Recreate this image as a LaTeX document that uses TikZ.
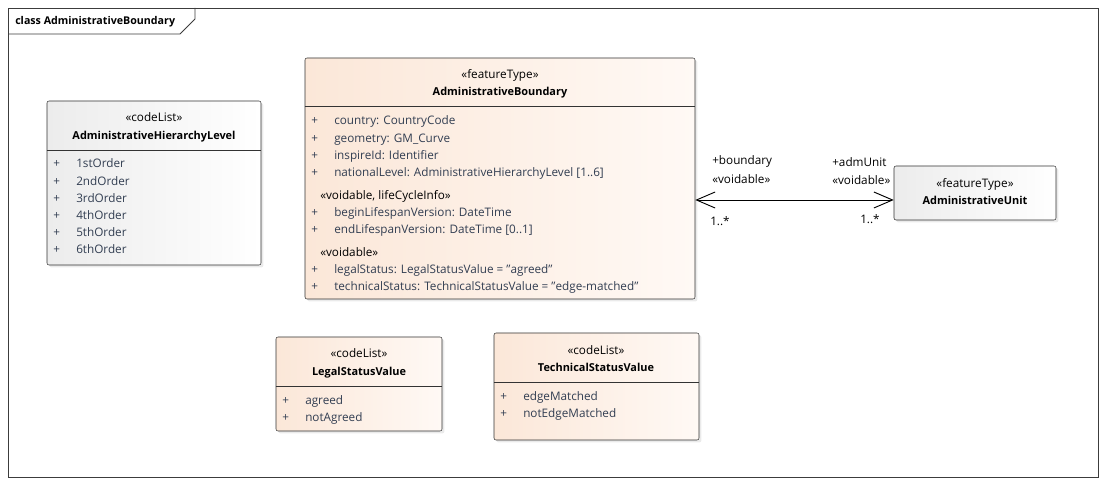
\documentclass[tikz,border=0pt]{standalone}
\usepackage{fontspec}
\setmainfont{Open Sans}
\usetikzlibrary{positioning,arrows.meta,shadows,fit}
\definecolor{peachleft}{RGB}{251,231,216}
\definecolor{peachright}{RGB}{255,249,245}
\definecolor{greyleft}{RGB}{236,236,236}
\definecolor{attrtext}{RGB}{50,62,82}
\definecolor{framegrey}{RGB}{60,60,60}
\newcommand{\qq}{\symbol{34}}

\begin{document}
\begin{tikzpicture}[x=0.75pt, y=-0.75pt,
  every node/.style={font=\fontsize{8.8}{10}\selectfont},
  classbox/.style={draw=black!80, rounded corners=1.5pt, inner sep=0pt,
    left color=peachleft, right color=peachright,
    drop shadow={shadow xshift=1.8pt, shadow yshift=-1.8pt, opacity=0.16}},
  greybox/.style={classbox, left color=greyleft, right color=white},
  stereo/.style={anchor=mid, inner sep=0pt, yshift=-1pt},
  cname/.style={anchor=mid, inner sep=0pt, yshift=-1pt, font=\fontsize{8.2}{10}\selectfont\bfseries},
  plus/.style={anchor=mid west, inner sep=0pt, yshift=-1pt, text=attrtext},
  attr/.style={anchor=mid west, inner sep=0pt, yshift=-1pt, text=attrtext},
  rolelbl/.style={anchor=mid west, inner sep=0pt, yshift=-1pt},
  assoc/.style={line width=0.7pt, {Straight Barb[length=14pt, width=12pt]}-{Straight Barb[length=14pt, width=12pt]}}]
\useasboundingbox (0,0) rectangle (1106,484);
\fill[white] (0,0) rectangle (1106,484);

% diagram frame
\draw[framegrey, line width=0.7pt] (8,8) rectangle (1098,477);
\draw[framegrey, line width=0.7pt] (8,34) -- (180,34) -- (195,19) -- (195,8);
\node[anchor=mid west, inner sep=0pt, font=\fontsize{8}{10}\selectfont\bfseries] (framelabel) at (15,21) {class AdministrativeBoundary};

% codeList AdministrativeHierarchyLevel
\node[greybox, fit={(47,101) (261,265)}] (hierlevel) {};
\node[stereo] (hierlevel-st) at (154,117) {«codeList»};
\node[cname] (hierlevel-nm) at (154,135) {AdministrativeHierarchyLevel};
\draw[black!80] (hierlevel.west |- 0,150) -- (hierlevel.east |- 0,150);
\foreach \val [count=\i] in {1stOrder,2ndOrder,3rdOrder,4thOrder,5thOrder,6thOrder} {
  \node[plus] (hierlevel-p\i) at (53,{163+17.2*(\i-1)}) {+};
  \node[attr] (hierlevel-v\i) at (76,{163+17.2*(\i-1)}) {\val};
}

% featureType AdministrativeBoundary
\node[classbox, fit={(305,58) (695,299)}] (boundary) {};
\node[stereo] (boundary-st) at (500,74) {«featureType»};
\node[cname] (boundary-nm) at (500,91) {AdministrativeBoundary};
\draw[black!80] (boundary.west |- 0,106) -- (boundary.east |- 0,106);
\foreach \val/\yy [count=\i] in {country: CountryCode/120, geometry: GM\_Curve/138, inspireId: Identifier/155,
    nationalLevel: AdministrativeHierarchyLevel [1..6]/172, beginLifespanVersion: DateTime/212,
    endLifespanVersion: DateTime [0..1]/229, legalStatus: LegalStatusValue = \qq agreed\qq/269,
    technicalStatus: TechnicalStatusValue = \qq edge-matched\qq/286} {
  \node[plus] (boundary-p\i) at (311,\yy) {+};
  \node[attr] (boundary-v\i) at (334,\yy) {\val};
}
\node[rolelbl] (boundary-grp1) at (320,195) {«voidable, lifeCycleInfo»};
\node[rolelbl] (boundary-grp2) at (320,252) {«voidable»};

% featureType AdministrativeUnit
\node[greybox, fit={(894,166) (1056,220)}] (admunit) {};
\node[stereo] (admunit-st) at (975,183) {«featureType»};
\node[cname] (admunit-nm) at (975,200) {AdministrativeUnit};

% codeList LegalStatusValue
\node[classbox, fit={(276,337) (442,431)}] (legal) {};
\node[stereo] (legal-st) at (359,353) {«codeList»};
\node[cname] (legal-nm) at (359,371) {LegalStatusValue};
\draw[black!80] (legal.west |- 0,386) -- (legal.east |- 0,386);
\node[plus] (legal-p1) at (282,400) {+};
\node[attr] (legal-v1) at (305,400) {agreed};
\node[plus] (legal-p2) at (282,417) {+};
\node[attr] (legal-v2) at (305,417) {notAgreed};

% codeList TechnicalStatusValue
\node[classbox, fit={(494,333) (699,440)}] (technical) {};
\node[stereo] (technical-st) at (596,350) {«codeList»};
\node[cname] (technical-nm) at (596,367) {TechnicalStatusValue};
\draw[black!80] (technical.west |- 0,382) -- (technical.east |- 0,382);
\node[plus] (technical-p1) at (500,396) {+};
\node[attr] (technical-v1) at (523,396) {edgeMatched};
\node[plus] (technical-p2) at (500,413) {+};
\node[attr] (technical-v2) at (523,413) {notEdgeMatched};

% association boundary <-> admUnit
\coordinate (assocy) at (0,200);
\draw[assoc] (boundary.east |- assocy) -- (admunit.west |- assocy);
\node[rolelbl] (role-bnd) at (712,160) {+boundary};
\node[rolelbl] (role-bnd-st) at (712,179) {«voidable»};
\node[rolelbl] (mult-bnd) at (710,221) {1..*};
\node[rolelbl] (role-adm) at (832,162) {+admUnit};
\node[rolelbl] (role-adm-st) at (832,180) {«voidable»};
\node[rolelbl] (mult-adm) at (860,219) {1..*};
\end{tikzpicture}
\end{document}
